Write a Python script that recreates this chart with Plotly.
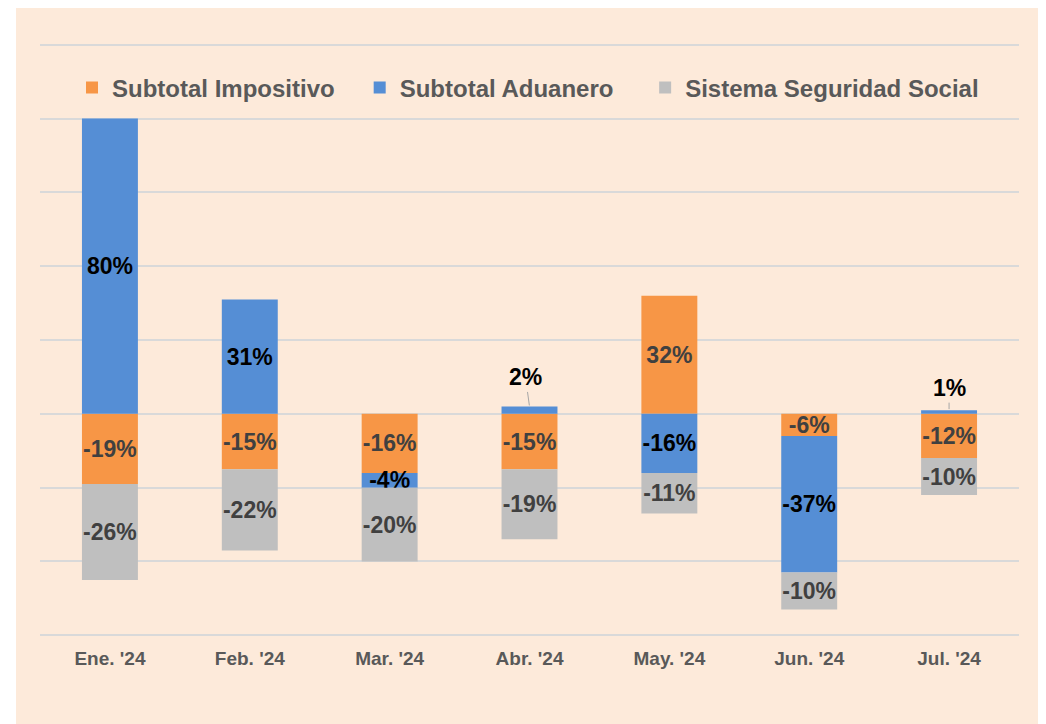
import plotly.graph_objects as go

categories = ["Ene. '24", "Feb. '24", "Mar. '24", "Abr. '24", "May. '24", "Jun. '24", "Jul. '24"]
impositivo = [-19, -15, -16, -15, 32, -6, -12]
aduanero = [80, 31, -4, 2, -16, -37, 1]
seguridad = [-26, -22, -20, -19, -11, -10, -10]

series_names = ["Subtotal Impositivo", "Subtotal Aduanero", "Sistema Seguridad Social"]
colors = ["#F79646", "#558ED5", "#BFBFBF"]
text_colors = ["#404040", "#000000", "#404040"]
legend_pad = [3, 4, 0]  # trailing spaces to equalise legend entry widths

FONT = "Liberation Sans, Arial, sans-serif"
SMALL = 5  # small positive values get an outside callout label

# the page body has an 8px margin; figure is sized/offset to compensate
W, H = 1038, 716
L, R, T, B = 32, 27, 33, 85
PW = W - L - R
PH = H - T - B

fig = go.Figure()
for name, vals, col, tcol, pad in zip(series_names, [impositivo, aduanero, seguridad], colors, text_colors, legend_pad):
    texts = ["" if 0 < v < SMALL else f"{v}%" for v in vals]
    fig.add_trace(go.Bar(
        x=categories, y=vals, name=f"<b>{name}</b>" + "\u00a0" * pad,
        marker=dict(color=col, line=dict(width=0)),
        text=texts, textposition="inside", insidetextanchor="middle",
        constraintext="none", textangle=0,
        textfont=dict(family=FONT, size=23, color=tcol),
        texttemplate="<b>%{text}</b>",
        hoverinfo="skip",
    ))

# callouts for small positive values
offsets = {"Abr. '24": (-4, -29), "Jul. '24": (0, -22)}
for vals in [impositivo, aduanero, seguridad]:
    for c, v in zip(categories, vals):
        if 0 < v < SMALL:
            ax, ay = offsets.get(c, (0, -25))
            fig.add_annotation(
                x=c, y=v, text=f"<b>{v}%</b>", showarrow=True, arrowhead=0,
                arrowwidth=1, arrowcolor="#A6A6A6", ax=ax, ay=ay, standoff=1,
                font=dict(family=FONT, size=23, color="#000000"),
            )

fig.add_shape(type="rect", xref="paper", yref="paper",
              x0=(8 - L) / PW, x1=1.1, y0=-0.2, y1=1.2,
              fillcolor="#FDEADA", line=dict(width=0), layer="below")

fig.update_layout(
    width=W, height=H,
    margin=dict(l=L, r=R, t=T, b=B),
    paper_bgcolor="#FFFFFF", plot_bgcolor="rgba(0,0,0,0)",
    barmode="relative", bargap=0.6,
    font=dict(family=FONT),
    showlegend=True,
    legend=dict(orientation="h", x=(64 - L) / PW, xanchor="left",
                y=1 - (80 - T) / PH, yanchor="middle",
                traceorder="normal", bgcolor="rgba(0,0,0,0)",
                font=dict(family=FONT, size=24, color="#595959"),
                itemwidth=30),
    xaxis=dict(showgrid=False, showline=False, ticks="",
               tickfont=dict(family=FONT, size=19, color="#595959"),
               ticklabelstandoff=6,
               tickvals=categories, ticktext=[f"<b>{c}</b>" for c in categories]),
    yaxis=dict(range=[-61, 101], dtick=20, showticklabels=False, showgrid=True,
               gridcolor="#D9D9D9", gridwidth=1.5, zeroline=True,
               zerolinecolor="#D9D9D9", zerolinewidth=1.5, showline=False, ticks=""),
)

fig.write_html("out.html")
